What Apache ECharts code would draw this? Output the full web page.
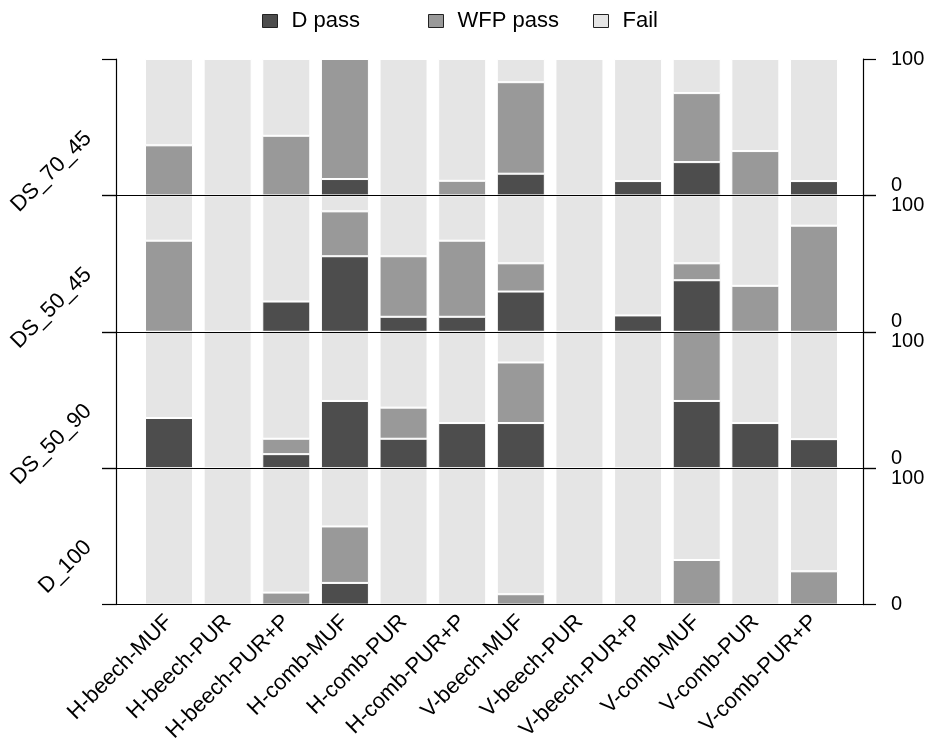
<!DOCTYPE html>
<html>
<head>
<meta charset="utf-8">
<script src="https://cdn.jsdelivr.net/npm/echarts@6/dist/echarts.min.js"></script>
<style>
html,body{margin:0;padding:0;background:#fff;}
#main{width:930px;height:738px;}
</style>
</head>
<body>
<div id="main"></div>
<script>
// ---- data ----
const categories = ['H-beech-MUF','H-beech-PUR','H-beech-PUR+P','H-comb-MUF','H-comb-PUR','H-comb-PUR+P',
  'V-beech-MUF','V-beech-PUR','V-beech-PUR+P','V-comb-MUF','V-comb-PUR','V-comb-PUR+P'];
const panels = ['DS_70_45','DS_50_45','DS_50_90','D_100'];
const seriesNames = ['D pass','WFP pass','Fail'];

const ds7045_D    = [0,0,0,12,0,0,15.9,0,10.5,24.4,0,10.5];
const ds7045_WFP  = [36.7,0,43.7,88,0,10.7,67.1,0,0,50.6,32.5,0];
const ds7045_Fail = [63.3,100,56.3,0,100,89.3,17,100,89.5,25,67.5,89.5];

const ds5045_D    = [0,0,22.2,55.4,11,11,29.5,0,12,37.8,0,0];
const ds5045_WFP  = [66.8,0,0,32.9,44.4,55.8,20.7,0,0,12.4,33.7,77.8];
const ds5045_Fail = [33.2,100,77.8,11.7,44.6,33.2,49.8,100,88,49.8,66.3,22.2];

const ds5090_D    = [36.8,0,10.3,49.3,21.6,33.1,33.1,0,0,49.3,33.1,21.3];
const ds5090_WFP  = [0,0,11.3,0,22.8,0,44.4,0,0,50.7,0,0];
const ds5090_Fail = [63.2,100,78.4,50.7,55.6,66.9,22.5,100,100,0,66.9,78.7];

const d100_D    = [0,0,0,15.9,0,0,0,0,0,0,0,0];
const d100_WFP  = [0,0,8.8,41.4,0,0,7.6,0,0,32.7,0,24.4];
const d100_Fail = [100,100,91.2,42.7,100,100,92.4,100,100,67.3,100,75.6];

const yMin = 0, yMax = 100;

const panelData = [
  [ds7045_D, ds7045_WFP, ds7045_Fail],
  [ds5045_D, ds5045_WFP, ds5045_Fail],
  [ds5090_D, ds5090_WFP, ds5090_Fail],
  [d100_D, d100_WFP, d100_Fail]
];

// ---- styles ----
const colors = ['#4d4d4d', '#999999', '#e5e5e5'];
const FONT = '"Liberation Sans", Arial, sans-serif';
const gridTop0 = 59, gridH = 136.4;
const nP = panels.length;

const grids = [], xAxes = [], yAxes = [], series = [];
const lineStyle = { color: '#000', width: 1.2 };

// frame grids (axis lines, ticks, right labels, panel names)
panels.forEach((pname, p) => {
  const last = p === nP - 1;
  const first = p === 0;
  grids.push({ left: 116, right: 67, top: gridTop0 + p * gridH, height: gridH, outerBoundsMode: 'none', containLabel: false, z: 3 });
  xAxes.push({
    type: 'value', gridIndex: p, min: 0, max: 1, z: 5,
    axisLine: { show: true, onZero: false, lineStyle },
    axisTick: { show: false }, splitLine: { show: false }, axisLabel: { show: false }
  });
  yAxes.push({
    type: 'value', gridIndex: p, position: 'left', min: yMin, max: yMax, interval: 100, z: 5,
    name: pname, nameLocation: 'middle', nameRotate: 45, nameGap: 20,
    nameTextStyle: { color: '#000', fontSize: 22, fontFamily: FONT, align: 'right', verticalAlign: 'middle', padding: [0, 11, 0, 0] },
    axisLine: { show: true, onZero: false, lineStyle },
    axisTick: { show: true, length: 14, lineStyle },
    axisLabel: { show: false }, splitLine: { show: false }
  });
  yAxes.push({
    type: 'value', gridIndex: p, position: 'right', min: yMin, max: yMax, interval: 100, z: 5,
    axisLine: { show: true, onZero: false, lineStyle },
    axisTick: { show: true, length: 13, lineStyle },
    axisLabel: {
      show: true, margin: 28, color: '#000', fontSize: 20, fontFamily: FONT,
      padding: first ? [10, 0, 0, 0] : 0,
      verticalAlignMinLabel: last ? 'middle' : 'bottom',
      verticalAlignMaxLabel: first ? 'middle' : 'top'
    },
    splitLine: { show: false }
  });
});

// bar grids (category axis, padded inside the frame)
panels.forEach((pname, p) => {
  const last = p === nP - 1;
  const gi = nP + p;
  grids.push({ left: 139.7, right: 86.7, top: gridTop0 + p * gridH, height: gridH, outerBoundsMode: 'none', containLabel: false });
  xAxes.push({
    type: 'category', gridIndex: gi, data: categories, boundaryGap: true,
    axisLine: { show: false }, axisTick: { show: false }, splitLine: { show: false },
    axisLabel: { show: last, interval: 0, rotate: 45, margin: 14, color: '#000', fontSize: 22, fontFamily: FONT }
  });
  yAxes.push({
    type: 'value', gridIndex: gi, min: yMin, max: yMax, show: false, splitLine: { show: false }
  });
  seriesNames.forEach((sname, s) => {
    series.push({
      name: sname, type: 'bar', stack: 'panel' + p,
      xAxisIndex: gi, yAxisIndex: 2 * nP + p,
      barWidth: 48, z: 2,
      itemStyle: { color: colors[s], borderColor: '#ffffff', borderWidth: 1 },
      emphasis: { disabled: true },
      data: panelData[p][s]
    });
  });
});

const legendLefts = [257, 423, 588];
const legends = seriesNames.map((n, i) => ({
  data: [n], left: legendLefts[i], top: 5, orient: 'horizontal',
  icon: 'rect', itemWidth: 15, itemHeight: 13, selectedMode: false,
  itemStyle: { borderColor: '#222', borderWidth: 1 },
  textStyle: { color: '#000', fontSize: 22, fontFamily: FONT, padding: [0, 0, 0, 9] }
}));

const chart = echarts.init(document.getElementById('main'), null, { renderer: 'canvas' });
chart.setOption({
  animation: false,
  backgroundColor: '#fff',
  legend: legends,
  grid: grids,
  xAxis: xAxes,
  yAxis: yAxes,
  series: series
});
</script>
</body>
</html>
